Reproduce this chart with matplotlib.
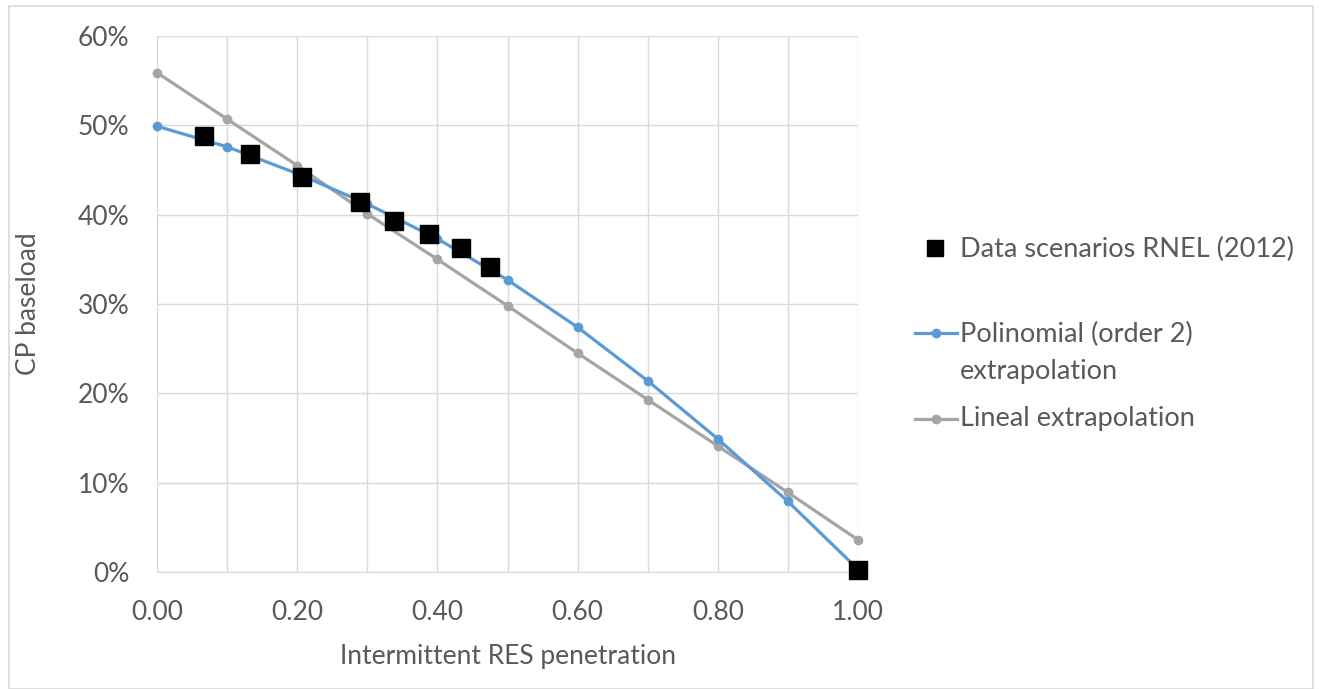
import matplotlib.pyplot as plt
from matplotlib.ticker import FuncFormatter
from matplotlib.patches import Rectangle
from matplotlib.lines import Line2D

# values
x_fit = [0.0, 0.1, 0.2, 0.3, 0.4, 0.5, 0.6, 0.7, 0.8, 0.9, 1.0]
poly = [0.499, 0.476, 0.446, 0.412, 0.373, 0.327, 0.274, 0.214, 0.149, 0.079, 0.003]
lineal = [0.559, 0.507, 0.455, 0.401, 0.350, 0.298, 0.245, 0.193, 0.141, 0.089, 0.036]

x_data = [0.067, 0.133, 0.207, 0.289, 0.338, 0.388, 0.434, 0.475, 1.0]
y_data = [0.488, 0.468, 0.442, 0.414, 0.393, 0.378, 0.363, 0.341, 0.002]

plt.rcParams['font.family'] = ['Lato', 'DejaVu Sans']
txt = '#595959'
blue = '#5b9bd5'
grey = '#a5a5a5'
W, H = 1319, 689


def fx(px):
    return px / W


def fy(py):
    return 1 - py / H


fig = plt.figure(figsize=(W / 100, H / 100), dpi=100)
ax = fig.add_axes([fx(157), fy(572), 701 / W, 536 / H])

ax.plot(x_data, y_data, 's', color='black', markersize=13, zorder=5, clip_on=False)
ax.plot(x_fit, poly, '-o', color=blue, lw=2.3, markersize=6, zorder=4, clip_on=False)
ax.plot(x_fit, lineal, '-o', color=grey, lw=2.3, markersize=6, zorder=3, clip_on=False)

ax.set_xlim(0, 1)
ax.set_ylim(0, 0.6)
ax.set_xticks([0, 0.2, 0.4, 0.6, 0.8, 1.0])
ax.set_yticks([0, 0.1, 0.2, 0.3, 0.4, 0.5, 0.6])
ax.xaxis.set_major_formatter(FuncFormatter(lambda v, p: f'{v:.2f}'))
ax.yaxis.set_major_formatter(FuncFormatter(lambda v, p: f'{v * 100:.0f}%'))
# vertical grid every 0.1
ax.set_xticks([i / 10 for i in range(11)], minor=True)
ax.grid(True, which='both', axis='x', color='#d9d9d9', lw=1)
ax.grid(True, which='major', axis='y', color='#d9d9d9', lw=1)
ax.set_axisbelow(True)
ax.tick_params(which='both', length=0, labelsize=19, labelcolor=txt)
ax.tick_params(axis='y', pad=20)
ax.tick_params(axis='x', pad=20)
for s in ['top', 'right', 'left']:
    ax.spines[s].set_visible(False)
ax.spines['bottom'].set_color('#d9d9d9')

ax.set_xlabel('Intermittent RES penetration', fontsize=19, color=txt, labelpad=14)
ax.set_ylabel('CP baseload', fontsize=19, color=txt, labelpad=26)

# legend, laid out like the Excel one
fig.add_artist(Line2D([fx(935)], [fy(248)], marker='s', color='black',
                      markersize=11, linestyle='none'))
fig.add_artist(Line2D([fx(915), fx(957)], [fy(333), fy(333)], color=blue, lw=2.3))
fig.add_artist(Line2D([fx(936)], [fy(333)], marker='o', color=blue, markersize=6))
fig.add_artist(Line2D([fx(915), fx(957)], [fy(419), fy(419)], color=grey, lw=2.3))
fig.add_artist(Line2D([fx(936)], [fy(419)], marker='o', color=grey, markersize=6))
leg_txt = [('Data scenarios RNEL (2012)', 257), ('Polinomial (order 2)', 342),
           ('extrapolation', 379), ('Lineal extrapolation', 426)]
for s, base in leg_txt:
    fig.text(fx(960), fy(base), s, fontsize=19.5, color=txt, va='baseline', ha='left')

fig.add_artist(Rectangle((fx(9), 0), 1304 / W, 1 - 6 / H, transform=fig.transFigure,
                         fill=False, edgecolor='#d9d9d9', lw=1.2))

fig.savefig('out.png', dpi=100)
